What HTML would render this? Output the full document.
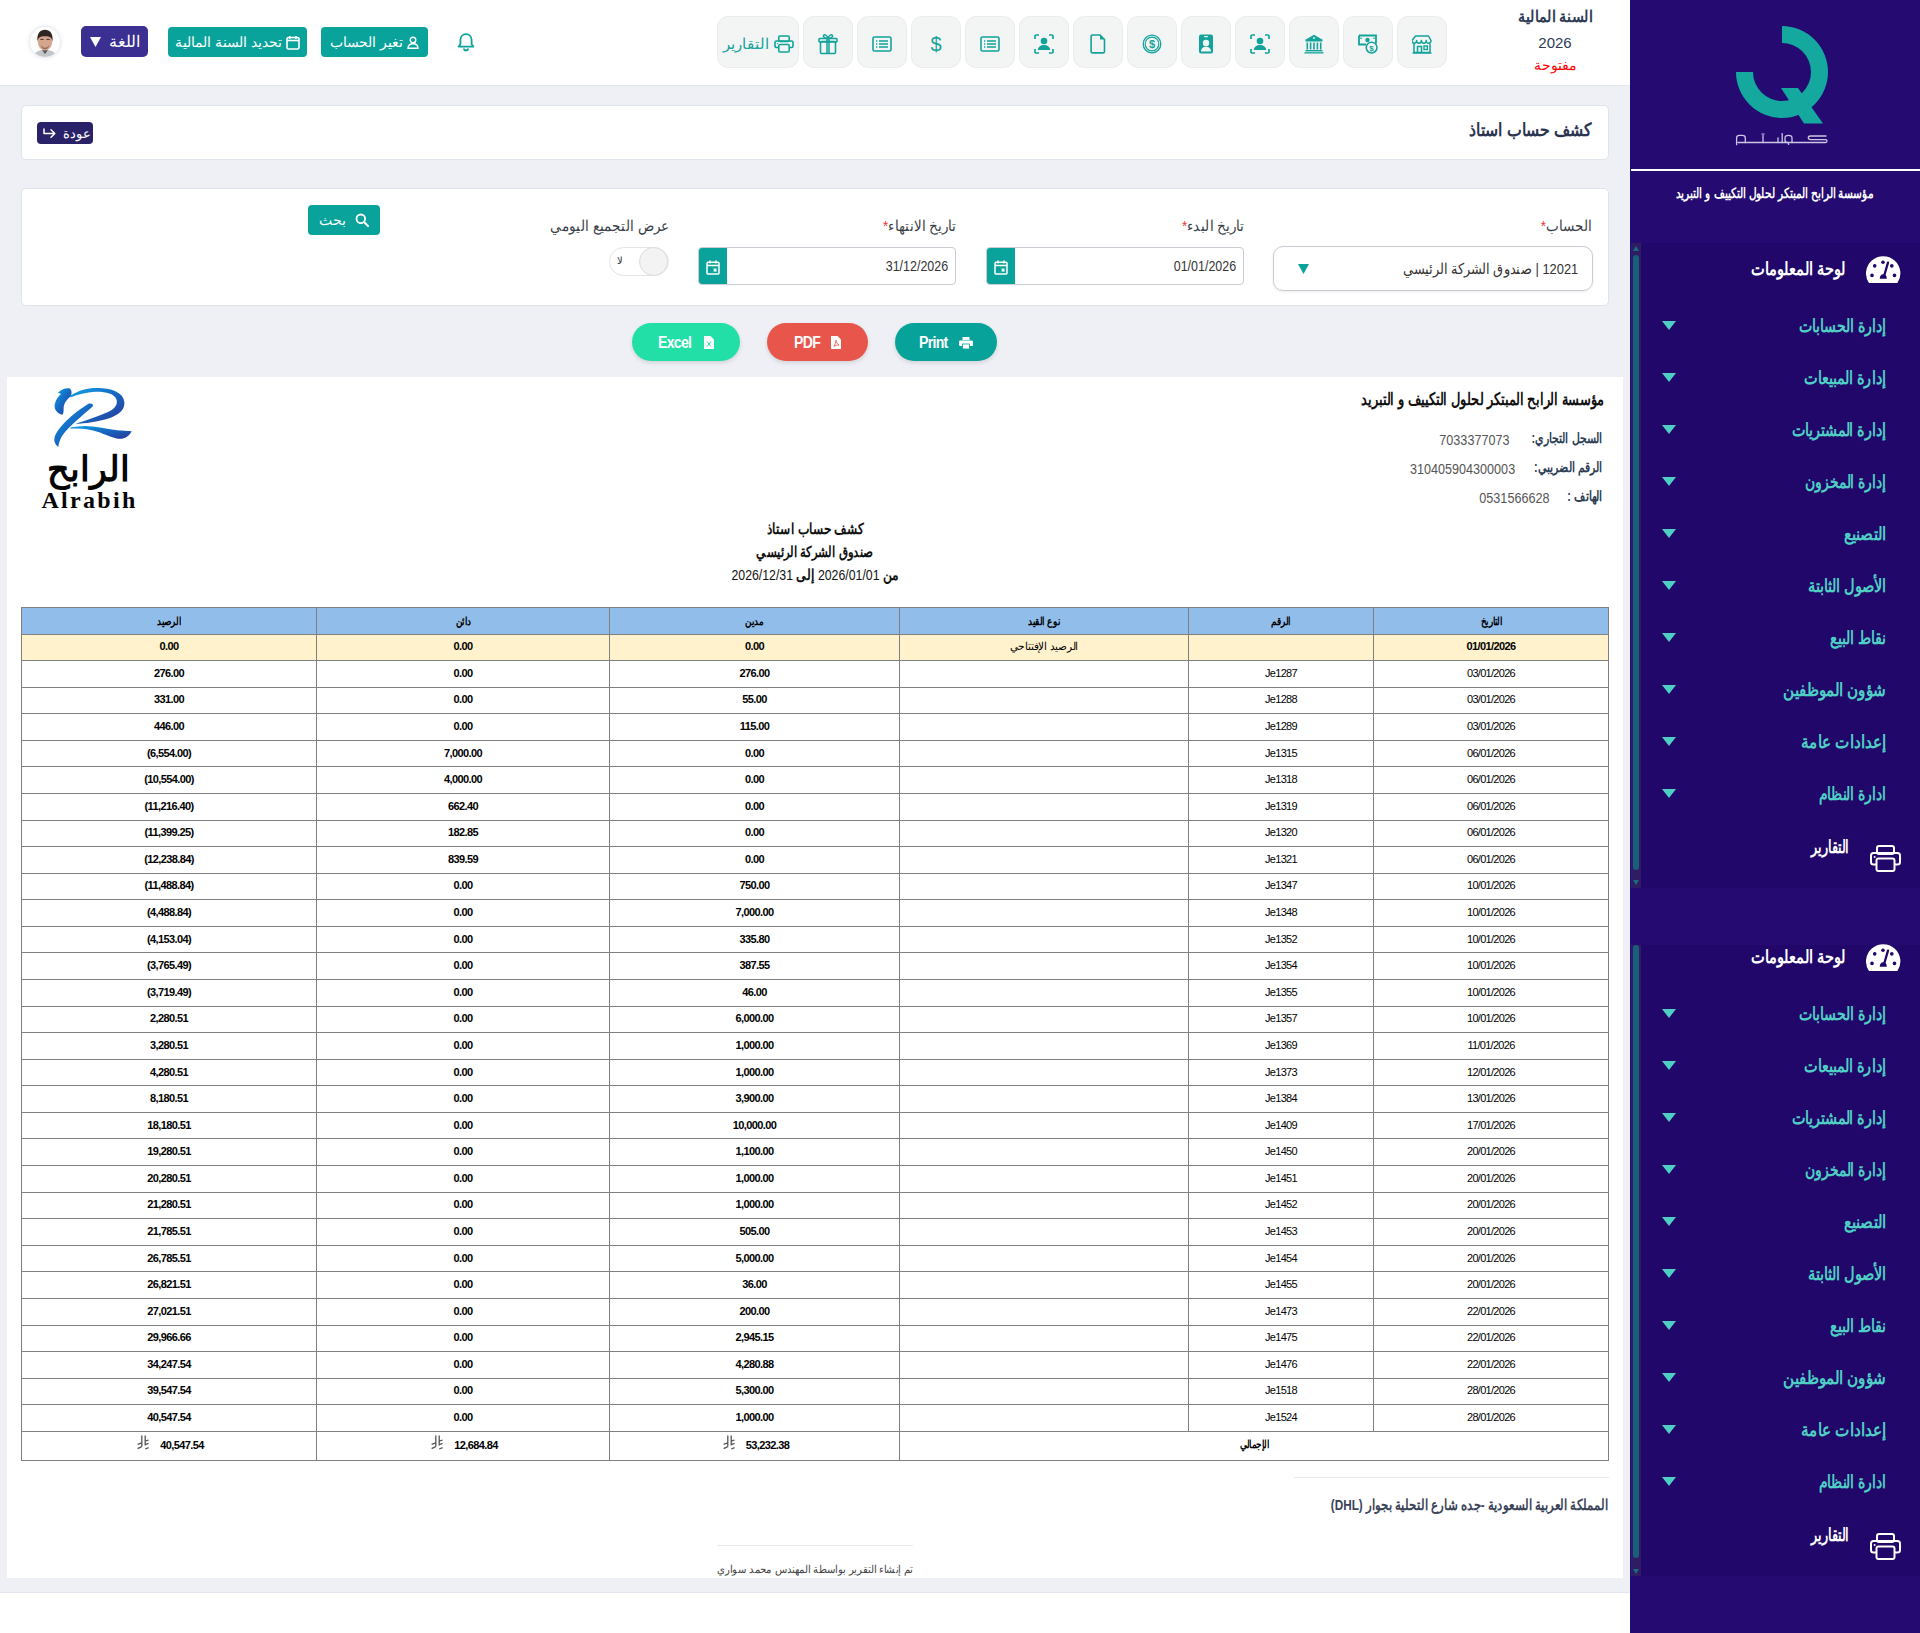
<!DOCTYPE html>
<html lang="ar" dir="rtl">
<head>
<meta charset="utf-8">
<title>كشف حساب استاذ</title>
<style>
*{box-sizing:border-box;margin:0;padding:0}
html,body{width:1920px;height:1633px;overflow:hidden;background:#fff;font-family:"Liberation Sans",sans-serif;color:#333}
.abs{position:absolute}
#hdr{position:absolute;left:0;top:0;width:1630px;height:86px;background:#fff;border-bottom:1px solid #e2e6ef}
#main{position:absolute;left:0;top:86px;width:1630px;height:1507px;background:#eef0f5;border-bottom:1px solid #e3e6ee}
#side{position:absolute;left:1630px;top:0;width:290px;height:1633px;background:#240a71}
.ib{position:absolute;top:16px;width:50px;height:52px;padding-top:4px;background:#f3f4f4;border:1px solid #ebeced;border-radius:11px;display:flex;align-items:center;justify-content:center}
.ib svg{display:block}
.tbtn{position:absolute;background:#0aa39b;color:#fff;border-radius:4px;font-size:14px;display:flex;align-items:center;justify-content:center;gap:4px;white-space:nowrap}
.card{position:absolute;left:21px;width:1588px;background:#fff;border:1px solid #dfe3ec;border-radius:5px}
.lbl{position:absolute;font-size:15px;color:#3a3f4a;white-space:nowrap;transform:scaleX(.9);transform-origin:100% 50%;margin-top:1px}
.lbl b{color:#e33;font-weight:normal}
.pill span{display:inline-block;transform:scaleX(.88);transform-origin:0 50%;margin-right:-4px}
.pill{position:absolute;top:323px;height:38px;border-radius:19px;color:#fff;font-weight:bold;font-size:16px;letter-spacing:-.8px;padding-top:1px;display:flex;align-items:center;justify-content:center;gap:12px;box-shadow:0 2px 4px rgba(0,0,0,.12)}
.ik{font-size:14px;font-weight:bold;color:#2d3e55;white-space:nowrap;transform:scaleX(.775);transform-origin:100% 50%}
.iv{font-size:15px;color:#555;white-space:nowrap;direction:ltr;transform:scaleX(.84);transform-origin:100% 50%}
.ctr{left:0;width:1616px;text-align:center;font-size:15px;color:#111;white-space:nowrap}
#tbl{border-collapse:collapse;table-layout:fixed;width:1587px;font-size:11px;color:#000}
#tbl td{border:1px solid #808080;text-align:center;height:26.58px;padding:0 0 2px;white-space:nowrap;vertical-align:middle}
#tbl .th td{background:#90bde9;font-weight:bold;height:26.5px;padding:2px 0 0}
#tbl .th span{display:inline-block;transform:scaleX(.8)}
#tbl .op td{background:#fff2cc}
#tbl .am{font-weight:bold;letter-spacing:-.6px}
#tbl .dt{letter-spacing:-.7px}
#tbl .tot td{height:29px}
#tbl .ry{vertical-align:-2px;margin-right:11px;margin-top:-8px;margin-left:3px}
#tbl .ltr{direction:ltr}
.sm-w{color:#fff;font-weight:bold;font-size:18px;white-space:nowrap;transform:scaleX(.81);transform-origin:100% 50%}
.sm-t{color:#4fcfc4;font-weight:bold;font-size:18px;white-space:nowrap;transform:scaleX(.765);transform-origin:100% 50%}
</style>
</head>
<body>
<!-- HEADER -->
<div id="hdr">
  <!-- avatar -->
  <div class="abs" style="left:30px;top:27px;width:30px;height:30px;border-radius:50%;background:#fff;box-shadow:0 0 4px rgba(120,130,170,.35);overflow:hidden">
    <svg width="30" height="30" viewBox="0 0 32 32">
      <path d="M4 32 C5 26 9 24.5 16 24.5 C23 24.5 27 26 28 32Z" fill="#c4c6ca"/>
      <path d="M13 24.5 L16 29 L19 24.5Z" fill="#55585e"/>
      <path d="M8.2 14.5 C8.2 8 11.5 5.5 16 5.5 C20.5 5.5 23.8 8 23.8 14.5 C23.8 21 20.5 25 16 25 C11.5 25 8.2 21 8.2 14.5Z" fill="#d6a58e"/>
      <path d="M8 15.5 C7 7 11 3 16 3 C21 3 25 7 24 15.5 C23.3 11.5 22 9.8 16 9.8 C10 9.8 8.7 11.5 8 15.5Z" fill="#2f2622"/>
      <path d="M11 13.2h3.5M17.5 13.2h3.5" stroke="#3a2b25" stroke-width="1"/>
      <path d="M11.5 19.5 Q16 25 20.5 19.5 Q19.5 23.5 16 23.8 Q12.5 23.5 11.5 19.5Z" fill="#5b4038" opacity=".55"/>
    </svg>
  </div>
  <!-- language -->
  <div class="tbtn" style="left:81px;top:26px;width:67px;height:31px;background:#3b2f92;border-radius:5px;font-size:15px;gap:8px">
    <span style="font-size:16px">اللغة</span><svg width="11" height="10" viewBox="0 0 11 10"><path d="M0 0h11L5.5 10z" fill="#fff"/></svg>
  </div>
  <!-- fiscal year btn -->
  <div class="tbtn" style="left:168px;top:27px;width:139px;height:30px">
    <svg width="14" height="15" viewBox="0 0 14 15"><rect x="1" y="2.5" width="12" height="11.5" rx="1.5" fill="none" stroke="#fff" stroke-width="1.6"/><path d="M1 5.5h12" stroke="#fff" stroke-width="1.6"/><path d="M4 1v3M10 1v3" stroke="#fff" stroke-width="1.6"/></svg>
    <span>تحديد السنة المالية</span>
  </div>
  <!-- change account -->
  <div class="tbtn" style="left:321px;top:27px;width:107px;height:30px">
    <svg width="12" height="13" viewBox="0 0 12 13"><circle cx="6" cy="4" r="2.8" fill="none" stroke="#fff" stroke-width="1.4"/><path d="M1 12.3c0-3 2.3-4.6 5-4.6s5 1.6 5 4.6z" fill="none" stroke="#fff" stroke-width="1.4"/></svg>
    <span>تغير الحساب</span>
  </div>
  <!-- bell -->
  <svg class="abs" style="left:456px;top:32px" width="20" height="20" viewBox="0 0 20 20"><path d="M10 2.2c-3.3 0-5.6 2.6-5.6 5.8v4.3L2.6 14.6h14.8l-1.8-2.3V8c0-3.2-2.3-5.8-5.6-5.8z" fill="none" stroke="#0aa39b" stroke-width="1.8" stroke-linejoin="round"/><path d="M8 16.4a2 2 0 0 0 4 0" fill="none" stroke="#0aa39b" stroke-width="1.8"/></svg>

  <!-- ICON BOXES -->
  <div class="ib" style="left:717px;width:82px;gap:5px;color:#12a39b;font-size:15px"><svg width="20" height="18" viewBox="0 0 20 18"><rect x="4.8" y="1" width="10.4" height="5.5" rx="1.3" fill="none" stroke="#12a39b" stroke-width="1.6"/><path d="M4.5 12.5H2.5C1.6 12.5 1 11.9 1 11V7.5C1 6.6 1.6 6 2.5 6h15c.9 0 1.5.6 1.5 1.5V11c0 .9-.6 1.5-1.5 1.5h-2" fill="none" stroke="#12a39b" stroke-width="1.6"/><rect x="4.8" y="9.5" width="10.4" height="7.5" rx="1.3" fill="none" stroke="#12a39b" stroke-width="1.6"/><circle cx="3.6" cy="8.6" r=".7" fill="#12a39b"/></svg><span>التقارير</span></div>
  <div class="ib" style="left:803px"><svg width="20" height="22" viewBox="0 0 20 22"><rect x="2.5" y="8.5" width="15" height="12" rx="1" fill="none" stroke="#12a39b" stroke-width="1.6"/><rect x="1" y="5.5" width="18" height="3.4" rx=".8" fill="none" stroke="#12a39b" stroke-width="1.6"/><path d="M9 5.5v15M11 5.5v15" stroke="#12a39b" stroke-width="1.5"/><path d="M10 5.3C9 2 6.5 1.2 5.6 2.4 4.8 3.6 6.5 5.3 10 5.3 13.5 5.3 15.2 3.6 14.4 2.4 13.5 1.2 11 2 10 5.3z" fill="none" stroke="#12a39b" stroke-width="1.5"/></svg></div>
  <div class="ib" style="left:857px"><svg width="20" height="16" viewBox="0 0 20 16"><rect x="1" y="1" width="18" height="14" rx="1.6" fill="none" stroke="#12a39b" stroke-width="1.6"/><path d="M7 5h9M7 8h9M7 11h9" stroke="#12a39b" stroke-width="1.6"/><path d="M4 5h1.3M4 8h1.3M4 11h1.3" stroke="#12a39b" stroke-width="1.4"/></svg></div>
  <div class="ib" style="left:911px"><svg width="12" height="18" viewBox="0 0 12 18"><text x="6" y="15.5" text-anchor="middle" font-family="Liberation Sans" font-size="20" fill="#12a39b">$</text></svg></div>
  <div class="ib" style="left:965px"><svg width="20" height="16" viewBox="0 0 20 16"><rect x="1" y="1" width="18" height="14" rx="1.6" fill="none" stroke="#12a39b" stroke-width="1.6"/><path d="M7 5h9M7 8h9M7 11h9" stroke="#12a39b" stroke-width="1.6"/><path d="M4 5h1.3M4 8h1.3M4 11h1.3" stroke="#12a39b" stroke-width="1.4"/></svg></div>
  <div class="ib" style="left:1019px"><svg width="20" height="20" viewBox="0 0 20 20"><path d="M1 5V2.2C1 1.5 1.5 1 2.2 1H5M15 1h2.8c.7 0 1.2.5 1.2 1.2V5M19 15v2.8c0 .7-.5 1.2-1.2 1.2H15M5 19H2.2C1.5 19 1 18.5 1 17.8V15" fill="none" stroke="#12a39b" stroke-width="1.7"/><circle cx="10" cy="7" r="3.3" fill="#12a39b"/><path d="M3.8 16c.4-3.4 3-5 6.2-5s5.8 1.6 6.2 5z" fill="#12a39b"/></svg></div>
  <div class="ib" style="left:1073px"><svg width="16" height="20" viewBox="0 0 16 20"><path d="M2.5 1h7.5l4.5 4.5v12c0 .8-.6 1.4-1.4 1.4H2.5c-.8 0-1.4-.6-1.4-1.4V2.4C1.1 1.6 1.7 1 2.5 1z" fill="none" stroke="#12a39b" stroke-width="1.6" stroke-linejoin="round"/><path d="M10 1v4.5h4.5z" fill="#12a39b"/></svg></div>
  <div class="ib" style="left:1127px"><svg width="20" height="20" viewBox="0 0 20 20"><circle cx="10" cy="10" r="8.8" fill="none" stroke="#12a39b" stroke-width="1.3"/><circle cx="10" cy="10" r="6.8" fill="none" stroke="#12a39b" stroke-width="1.2"/><text x="10" y="14" text-anchor="middle" font-family="Liberation Sans" font-weight="bold" font-size="11" fill="#12a39b">$</text></svg></div>
  <div class="ib" style="left:1181px"><svg width="16" height="20" viewBox="0 0 16 20"><rect x="1" y=".5" width="14" height="19" rx="2" fill="#12a39b"/><rect x="6" y="2" width="4" height="1.2" rx=".6" fill="#f3f4f4"/><circle cx="8" cy="9" r="3.2" fill="#f3f4f4"/><path d="M3 17.5c0-3 2.2-4.8 5-4.8s5 1.8 5 4.8z" fill="#f3f4f4"/></svg></div>
  <div class="ib" style="left:1235px"><svg width="20" height="20" viewBox="0 0 20 20"><path d="M1 5V2.2C1 1.5 1.5 1 2.2 1H5M15 1h2.8c.7 0 1.2.5 1.2 1.2V5M19 15v2.8c0 .7-.5 1.2-1.2 1.2H15M5 19H2.2C1.5 19 1 18.5 1 17.8V15" fill="none" stroke="#12a39b" stroke-width="1.7"/><circle cx="10" cy="7" r="3.3" fill="#12a39b"/><path d="M3.8 16c.4-3.4 3-5 6.2-5s5.8 1.6 6.2 5z" fill="#12a39b"/></svg></div>
  <div class="ib" style="left:1289px"><svg width="20" height="20" viewBox="0 0 20 20"><path d="M10 .8 L19 6 H1Z" fill="#12a39b"/><circle cx="10" cy="4" r=".9" fill="#f3f4f4"/><rect x="1.5" y="6" width="17" height="1.5" fill="#12a39b"/><path d="M3.3 8.5v7M6.6 8.5v7M10 8.5v7M13.4 8.5v7M16.7 8.5v7" stroke="#12a39b" stroke-width="1.6"/><rect x="1.5" y="16" width="17" height="1.4" fill="#12a39b"/><rect x=".5" y="18.2" width="19" height="1.3" fill="#12a39b"/></svg></div>
  <div class="ib" style="left:1343px"><svg width="20" height="20" viewBox="0 0 20 20"><path d="M1 1.5h17v8" fill="none" stroke="#12a39b" stroke-width="1.8"/><path d="M1 1.5v9h7" fill="none" stroke="#12a39b" stroke-width="1.8"/><circle cx="9.5" cy="6" r="2.2" fill="#12a39b"/><path d="M3 3.5v1.5M16 3.5v1.5" stroke="#12a39b" stroke-width="1.2"/><circle cx="13.6" cy="13.6" r="5.4" fill="#f3f4f4" stroke="#12a39b" stroke-width="1.6"/><text x="13.6" y="16.6" text-anchor="middle" font-family="Liberation Sans" font-weight="bold" font-size="8" fill="#12a39b">$</text></svg></div>
  <div class="ib" style="left:1397px"><svg width="20" height="19" viewBox="0 0 20 19"><path d="M3.5 1h13l2.5 4.5c0 1.6-1.1 2.7-2.4 2.7-1.3 0-2.4-1.1-2.4-2.7 0 1.6-1.1 2.7-2.4 2.7S9.4 7.1 9.4 5.5c0 1.6-1.1 2.7-2.4 2.7S4.6 7.1 4.6 5.5c0 1.6-1.1 2.7-2.4 2.7S0 7.1 0 5.5z" fill="none" stroke="#12a39b" stroke-width="1.5" stroke-linejoin="round"/><path d="M2 8.5v9h16v-9" fill="none" stroke="#12a39b" stroke-width="1.5"/><path d="M5.5 17.5v-6h4v6" fill="none" stroke="#12a39b" stroke-width="1.5"/><rect x="12" y="11" width="3.3" height="3.5" fill="none" stroke="#12a39b" stroke-width="1.4"/><path d="M.5 18h19" stroke="#12a39b" stroke-width="1.4"/></svg></div>

  <!-- fiscal year -->
  <div class="abs" style="left:1500px;top:7px;width:110px;text-align:center;font-size:16px;font-weight:bold;color:#2e3b55;white-space:nowrap;transform:scaleX(.89)">السنة المالية</div>
  <div class="abs" style="left:1505px;top:34px;width:100px;text-align:center;font-size:15px;color:#2e3b55;direction:ltr">2026</div>
  <div class="abs" style="left:1505px;top:57px;width:100px;text-align:center;font-size:14px;color:#f00">مفتوحة</div>
</div>

<!-- MAIN -->
<div id="main"></div>
<!-- title card -->
<div class="card" style="top:105px;height:55px"></div>
<div class="abs" id="ttl" style="right:328px;top:119px;font-size:18px;font-weight:bold;color:#2b3450;white-space:nowrap;transform:scaleX(.87);transform-origin:100% 50%">كشف حساب استاذ</div>
<div class="abs" style="left:37px;top:122px;width:56px;height:22px;background:#2a2268;border-radius:4px;color:#fff;font-size:13px;display:flex;align-items:center;justify-content:center;gap:6px;padding-left:4px">
  <span>عودة</span>
  <svg width="14" height="11" viewBox="0 0 14 11"><path d="M13 1v4.5H2.5M6 1.8 2.2 5.5 6 9.2" fill="none" stroke="#fff" stroke-width="1.5" stroke-linecap="round" stroke-linejoin="round" transform="scale(-1,1) translate(-14,0)"/></svg>
</div>
<!-- form card -->
<div class="card" style="top:188px;height:118px"></div>
<div class="lbl" style="right:328px;top:216px">الحساب<b>*</b></div>
<div class="abs" style="left:1273px;top:246px;width:320px;height:45px;border:1px solid #c9ccd2;border-radius:10px;background:#fff;box-shadow:0 1px 3px rgba(0,0,0,.08)">
  <div class="abs" style="right:14px;top:13px;font-size:15px;color:#333;white-space:nowrap;transform:scaleX(.86);transform-origin:100% 50%">12021 | صندوق الشركة الرئيسي</div>
  <svg class="abs" style="left:24px;top:17px" width="11" height="10" viewBox="0 0 11 10"><path d="M0 0h11L5.5 10z" fill="#0aa39b"/></svg>
</div>
<div class="lbl" style="right:676px;top:216px">تاريخ البدء<b>*</b></div>
<div class="abs" style="left:986px;top:247px;width:258px;height:38px;border:1px solid #c9ccd2;border-radius:4px;background:#fff;overflow:hidden">
  <div class="abs" style="left:0;top:0;width:28px;height:38px;background:#0aa39b;display:flex;align-items:center;justify-content:center"><svg width="14" height="15" viewBox="0 0 14 15"><rect x="1" y="2.2" width="12" height="11.8" rx="1" fill="none" stroke="#fff" stroke-width="1.5"/><path d="M1 5.6h12" stroke="#fff" stroke-width="1.5"/><path d="M4 .6v3M10 .6v3" stroke="#fff" stroke-width="1.5"/><rect x="7.6" y="8.6" width="3" height="3" fill="#fff"/></svg></div>
  <div class="abs" style="right:7px;top:9px;font-size:15px;color:#333;direction:ltr;transform:scaleX(.83);transform-origin:100% 50%">01/01/2026</div>
</div>
<div class="lbl" style="right:964px;top:216px">تاريخ الانتهاء<b>*</b></div>
<div class="abs" style="left:698px;top:247px;width:258px;height:38px;border:1px solid #c9ccd2;border-radius:4px;background:#fff;overflow:hidden">
  <div class="abs" style="left:0;top:0;width:28px;height:38px;background:#0aa39b;display:flex;align-items:center;justify-content:center"><svg width="14" height="15" viewBox="0 0 14 15"><rect x="1" y="2.2" width="12" height="11.8" rx="1" fill="none" stroke="#fff" stroke-width="1.5"/><path d="M1 5.6h12" stroke="#fff" stroke-width="1.5"/><path d="M4 .6v3M10 .6v3" stroke="#fff" stroke-width="1.5"/><rect x="7.6" y="8.6" width="3" height="3" fill="#fff"/></svg></div>
  <div class="abs" style="right:7px;top:9px;font-size:15px;color:#333;direction:ltr;transform:scaleX(.83);transform-origin:100% 50%">31/12/2026</div>
</div>
<div class="lbl" style="right:1251px;top:216px">عرض التجميع اليومي</div>
<div class="abs" style="left:609px;top:247px;width:60px;height:29px;border:1px solid #e2e4e8;border-radius:15px;background:#fff">
  <div class="abs" style="right:0;top:-1px;width:29px;height:29px;border-radius:50%;background:#f3f3f4;border:1px solid #dcdde0"></div>
  <div class="abs" style="left:7px;top:7px;font-size:10px;color:#333">لا</div>
</div>
<div class="abs" style="left:308px;top:205px;width:72px;height:30px;background:#0aa39b;border-radius:4px;color:#fff;font-size:14px;display:flex;align-items:center;justify-content:center;gap:9px">
  <svg width="14" height="14" viewBox="0 0 14 14"><circle cx="5.8" cy="5.8" r="4.3" fill="none" stroke="#fff" stroke-width="1.8"/><path d="M9 9l4 4" stroke="#fff" stroke-width="2" stroke-linecap="round"/></svg>
  <span>بحث</span>
</div>
<!-- export pills -->
<div class="pill" style="left:895px;width:102px;background:#07a39a;direction:ltr">
  <span>Print</span>
  <svg width="14" height="12" viewBox="0 0 14 12"><rect x="3.5" y="0" width="7" height="3" fill="#fff"/><rect x="0" y="3.5" width="14" height="5.5" rx="1.2" fill="#fff"/><rect x="3.5" y="7" width="7" height="5" fill="#fff" stroke="#07a39a" stroke-width=".8"/></svg>
</div>
<div class="pill" style="left:767px;width:101px;background:#e8554a;direction:ltr">
  <span>PDF</span>
  <svg width="10" height="13" viewBox="0 0 10 13"><path d="M0 0h6.5L10 3.5V13H0z" fill="#fff"/><path d="M3 10.5c1-2 2-4.5 2-6.5 0 2 1.3 4 3 5-2 0-3.6.3-5 1.5z" fill="none" stroke="#e8554a" stroke-width=".8"/></svg>
</div>
<div class="pill" style="left:632px;width:108px;background:#22dfa8;direction:ltr">
  <span>Excel</span>
  <svg width="10" height="13" viewBox="0 0 10 13"><path d="M0 0h6.5L10 3.5V13H0z" fill="#fff"/><path d="M3 5.5l4 5M7 5.5l-4 5" stroke="#22dfa8" stroke-width="1"/></svg>
</div>
<!-- REPORT -->
<div id="report" class="abs" style="left:7px;top:377px;width:1616px;height:1201px;background:#fff">
  <!-- logo -->
  <svg class="abs" style="left:28px;top:3px" width="110" height="75" viewBox="0 0 110 75">
    <defs><linearGradient id="rg" x1="0" y1="0" x2="1" y2="1"><stop offset="0" stop-color="#0ea5e8"/><stop offset=".5" stop-color="#1667c2"/><stop offset="1" stop-color="#2b3596"/></linearGradient></defs>
    <path d="M23 12.4 C27 9 32 7.5 35 8.6 C37 10.5 37 14 35.6 16.5 C31 20 28.5 24 28.6 29 C28.8 32 28 34.5 27.2 34.8 C21 33 18.5 28 20 23.5 C21 19.5 23.5 16 26 14 Z" fill="url(#rg)"/>
    <path d="M35.5 15.6 C44 10 53 7.8 62 7.9 C76 8 88 12 89.3 21.5 C90.5 30 83 35 75 38 C62 42 50 43.5 40.5 43.8 C52 40 64 36 73 32 C80 29 83 24 81.5 19.5 C79.5 13.5 70 11.5 60 11.8 C51 12.3 43 14.6 35.6 17.4 Z" fill="url(#rg)"/>
    <path d="M53 24 C55.5 23 58.5 23.6 57.9 26.2 C48 35 33 47 27 56 C24.5 60 24 63.5 23.2 67 C19.5 64 18.5 60 20 56 C25 44 42 31 53 24 Z" fill="url(#rg)"/>
    <path d="M35.5 47.5 C45 45.5 55 45.5 65 47.5 C77 49.8 88 51 96.7 51.2 C95 54.5 92 57.5 88 58.5 C82 60 74 56 65 52.5 C55 49 45 48 35.5 48.8 Z" fill="url(#rg)"/>
  </svg>
  <div class="abs" style="left:30px;top:72px;width:102px;text-align:center;font-size:35px;font-weight:bold;color:#050505;line-height:40px">الرابح</div>
  <div class="abs" style="left:32px;top:111px;width:101px;text-align:center;font-family:'Liberation Serif',serif;font-size:24px;font-weight:bold;color:#050505;line-height:24px;direction:ltr;letter-spacing:2.3px">Alrabih</div>
  <!-- company -->
  <div class="abs" id="cname" style="right:19px;top:12px;font-size:17px;font-weight:bold;color:#111;white-space:nowrap;transform:scaleX(.763);transform-origin:100% 50%">مؤسسة الرابح المبتكر لحلول التكييف و التبريد</div>
  <div class="abs ik" style="right:20px;top:53px">السجل التجاري:</div><div class="abs iv" style="right:114px;top:54px">7033377073</div>
  <div class="abs ik" style="right:20px;top:82px">الرقم الضريبي:</div><div class="abs iv" style="right:108px;top:83px">310405904300003</div>
  <div class="abs ik" style="right:20px;top:111px">الهاتف :</div><div class="abs iv" style="right:74px;top:112px">0531566628</div>
  <!-- center titles -->
  <div class="abs ctr" style="top:143px;font-weight:bold;transform:scaleX(.81)">كشف حساب استاذ</div>
  <div class="abs ctr" style="top:166px;font-weight:bold;transform:scaleX(.78)">صندوق الشركة الرئيسي</div>
  <div class="abs ctr" style="top:189px;transform:scaleX(.82)"><b>من</b> 2026/01/01 <b>إلى</b> 2026/12/31</div>
  <!-- table -->
  <table id="tbl" class="abs" style="left:14px;top:230px">
    <colgroup><col style="width:235px"><col style="width:185px"><col style="width:289px"><col style="width:290px"><col style="width:293px"><col style="width:295px"></colgroup>
    <tr class="th"><td><span>التاريخ</span></td><td><span>الرقم</span></td><td><span>نوع القيد</span></td><td><span>مدين</span></td><td><span>دائن</span></td><td><span>الرصيد</span></td></tr>
    <tr class="op"><td class="am">01/01/2026</td><td></td><td class="tx"><span style="display:inline-block;transform:scaleX(.95)">الرصيد الإفتتاحي</span></td><td class="am">0.00</td><td class="am">0.00</td><td class="am">0.00</td></tr>
    <tr><td class="dt">03/01/2026</td><td class="dt">Je1287</td><td></td><td class="am">276.00</td><td class="am">0.00</td><td class="am">276.00</td></tr><tr><td class="dt">03/01/2026</td><td class="dt">Je1288</td><td></td><td class="am">55.00</td><td class="am">0.00</td><td class="am">331.00</td></tr><tr><td class="dt">03/01/2026</td><td class="dt">Je1289</td><td></td><td class="am">115.00</td><td class="am">0.00</td><td class="am">446.00</td></tr><tr><td class="dt">06/01/2026</td><td class="dt">Je1315</td><td></td><td class="am">0.00</td><td class="am">7,000.00</td><td class="am">(6,554.00)</td></tr><tr><td class="dt">06/01/2026</td><td class="dt">Je1318</td><td></td><td class="am">0.00</td><td class="am">4,000.00</td><td class="am">(10,554.00)</td></tr><tr><td class="dt">06/01/2026</td><td class="dt">Je1319</td><td></td><td class="am">0.00</td><td class="am">662.40</td><td class="am">(11,216.40)</td></tr><tr><td class="dt">06/01/2026</td><td class="dt">Je1320</td><td></td><td class="am">0.00</td><td class="am">182.85</td><td class="am">(11,399.25)</td></tr><tr><td class="dt">06/01/2026</td><td class="dt">Je1321</td><td></td><td class="am">0.00</td><td class="am">839.59</td><td class="am">(12,238.84)</td></tr><tr><td class="dt">10/01/2026</td><td class="dt">Je1347</td><td></td><td class="am">750.00</td><td class="am">0.00</td><td class="am">(11,488.84)</td></tr><tr><td class="dt">10/01/2026</td><td class="dt">Je1348</td><td></td><td class="am">7,000.00</td><td class="am">0.00</td><td class="am">(4,488.84)</td></tr><tr><td class="dt">10/01/2026</td><td class="dt">Je1352</td><td></td><td class="am">335.80</td><td class="am">0.00</td><td class="am">(4,153.04)</td></tr><tr><td class="dt">10/01/2026</td><td class="dt">Je1354</td><td></td><td class="am">387.55</td><td class="am">0.00</td><td class="am">(3,765.49)</td></tr><tr><td class="dt">10/01/2026</td><td class="dt">Je1355</td><td></td><td class="am">46.00</td><td class="am">0.00</td><td class="am">(3,719.49)</td></tr><tr><td class="dt">10/01/2026</td><td class="dt">Je1357</td><td></td><td class="am">6,000.00</td><td class="am">0.00</td><td class="am">2,280.51</td></tr><tr><td class="dt">11/01/2026</td><td class="dt">Je1369</td><td></td><td class="am">1,000.00</td><td class="am">0.00</td><td class="am">3,280.51</td></tr><tr><td class="dt">12/01/2026</td><td class="dt">Je1373</td><td></td><td class="am">1,000.00</td><td class="am">0.00</td><td class="am">4,280.51</td></tr><tr><td class="dt">13/01/2026</td><td class="dt">Je1384</td><td></td><td class="am">3,900.00</td><td class="am">0.00</td><td class="am">8,180.51</td></tr><tr><td class="dt">17/01/2026</td><td class="dt">Je1409</td><td></td><td class="am">10,000.00</td><td class="am">0.00</td><td class="am">18,180.51</td></tr><tr><td class="dt">20/01/2026</td><td class="dt">Je1450</td><td></td><td class="am">1,100.00</td><td class="am">0.00</td><td class="am">19,280.51</td></tr><tr><td class="dt">20/01/2026</td><td class="dt">Je1451</td><td></td><td class="am">1,000.00</td><td class="am">0.00</td><td class="am">20,280.51</td></tr><tr><td class="dt">20/01/2026</td><td class="dt">Je1452</td><td></td><td class="am">1,000.00</td><td class="am">0.00</td><td class="am">21,280.51</td></tr><tr><td class="dt">20/01/2026</td><td class="dt">Je1453</td><td></td><td class="am">505.00</td><td class="am">0.00</td><td class="am">21,785.51</td></tr><tr><td class="dt">20/01/2026</td><td class="dt">Je1454</td><td></td><td class="am">5,000.00</td><td class="am">0.00</td><td class="am">26,785.51</td></tr><tr><td class="dt">20/01/2026</td><td class="dt">Je1455</td><td></td><td class="am">36.00</td><td class="am">0.00</td><td class="am">26,821.51</td></tr><tr><td class="dt">22/01/2026</td><td class="dt">Je1473</td><td></td><td class="am">200.00</td><td class="am">0.00</td><td class="am">27,021.51</td></tr><tr><td class="dt">22/01/2026</td><td class="dt">Je1475</td><td></td><td class="am">2,945.15</td><td class="am">0.00</td><td class="am">29,966.66</td></tr><tr><td class="dt">22/01/2026</td><td class="dt">Je1476</td><td></td><td class="am">4,280.88</td><td class="am">0.00</td><td class="am">34,247.54</td></tr><tr><td class="dt">28/01/2026</td><td class="dt">Je1518</td><td></td><td class="am">5,300.00</td><td class="am">0.00</td><td class="am">39,547.54</td></tr><tr><td class="dt">28/01/2026</td><td class="dt">Je1524</td><td></td><td class="am">1,000.00</td><td class="am">0.00</td><td class="am">40,547.54</td></tr>
    <tr class="tot"><td colspan="3" class="am"><span style="display:inline-block;transform:scaleX(.8)">الإجمالي</span></td><td class="am ltr"><svg class="ry" width="12" height="16" viewBox="0 0 12 16"><path d="M4.8 .5V11.5M8.2 .5V10.5M.6 9.4 4.8 7.8M.6 13.6C2 13 3.5 12.4 4.8 11.5M8.2 6.2 11.6 5M8.2 9.6 11.6 8.4M8.2 14 11.6 12.6" stroke="#555" stroke-width="1.3" fill="none"/></svg>53,232.38</td><td class="am ltr"><svg class="ry" width="12" height="16" viewBox="0 0 12 16"><path d="M4.8 .5V11.5M8.2 .5V10.5M.6 9.4 4.8 7.8M.6 13.6C2 13 3.5 12.4 4.8 11.5M8.2 6.2 11.6 5M8.2 9.6 11.6 8.4M8.2 14 11.6 12.6" stroke="#555" stroke-width="1.3" fill="none"/></svg>12,684.84</td><td class="am ltr"><svg class="ry" width="12" height="16" viewBox="0 0 12 16"><path d="M4.8 .5V11.5M8.2 .5V10.5M.6 9.4 4.8 7.8M.6 13.6C2 13 3.5 12.4 4.8 11.5M8.2 6.2 11.6 5M8.2 9.6 11.6 8.4M8.2 14 11.6 12.6" stroke="#555" stroke-width="1.3" fill="none"/></svg>40,547.54</td></tr>
  </table>
  <!-- footer -->
  <div class="abs" style="left:1287px;top:1100px;width:315px;border-top:1px solid #e8e8ea"></div>
  <div class="abs" style="right:15px;top:1119px;font-size:15px;font-weight:bold;color:#3b4459;white-space:nowrap;transform:scaleX(.783);transform-origin:100% 50%">المملكة العربية السعودية -جده شارع التحلية بجوار (DHL)</div>
  <div class="abs" style="left:710px;top:1168px;width:196px;border-top:1px solid #e8e8ea"></div>
  <div class="abs" style="left:700px;top:1186px;width:216px;text-align:center;font-size:11px;color:#444;white-space:nowrap;transform:scaleX(.915)">تم إنشاء التقرير بواسطة المهندس محمد سواري</div>
</div>

<!-- SIDEBAR -->
<div id="side">
  <div class="abs" style="left:0;top:0;width:1px;height:1633px;background:#1c0c80"></div>
  <div class="abs" style="left:1px;top:243px;width:289px;height:645px;background:#21076a"></div>
  <div class="abs" style="left:1px;top:945px;width:289px;height:631px;background:#21076a"></div>
  <!-- Q logo -->
  <svg class="abs" style="left:100px;top:22px" width="100" height="105" viewBox="0 0 100 105">
    <path d="M52 4 A46 46 0 1 1 6 50 L23 50 A29 29 0 1 0 52 21 Z" fill="#14a89e"/>
    <path d="M51 66 L68 66 L93 101.5 L74 101.5 Z" fill="#14a89e"/>
  </svg>
  <svg class="abs" style="left:100px;top:128px" width="105" height="22" viewBox="0 0 105 22" fill="none" stroke="#cdc6e6" stroke-width="1.3" stroke-linecap="round" stroke-linejoin="round">
    <path d="M96 8 H80.5 Q78.3 8 78.3 9.8 Q78.3 11.6 80.5 11.6 H95.5 Q97 11.6 97 13 Q97 14.5 95.5 14.5 H8"/>
    <path d="M62 14.5 V10 Q62 7.4 58.5 7.4 Q55 7.4 55 10 V12.5 Q55 14.5 57.5 14.5 Q58.6 14.5 58.6 16.4"/>
    <path d="M52.2 5.6 V14.6"/>
    <path d="M48 9.8 V14.5"/>
    <path d="M33 7.6 V14.5"/>
    <path d="M31.8 6 H34.2" stroke-width="1.1"/>
    <path d="M15.3 14.5 V10 Q15.3 7.4 12.3 7.4 H9.3 Q6.6 7.4 6.6 10 V16.7"/>
  </svg>
  <div class="abs" style="left:1px;top:169px;width:289px;height:2px;background:#fff"></div>
  <div class="abs" style="left:-20px;top:185px;width:330px;text-align:center;color:#fff;font-weight:bold;font-size:14px;white-space:nowrap;transform:scaleX(.75)">مؤسسة الرابح المبتكر لحلول التكييف و التبريد</div>
  <div class="abs" style="left:1px;top:243px;width:10px;height:645px;background:#2e1d63"></div><div class="abs" style="left:3px;top:255px;width:6px;height:615px;border-radius:3px;background:#1a5f7a"></div><svg class="abs" style="left:3px;top:246px" width="6" height="5" viewBox="0 0 6 5"><path d="M0 5h6L3 0z" fill="#1a6a80"/></svg><svg class="abs" style="left:3px;top:880px" width="6" height="5" viewBox="0 0 6 5"><path d="M0 0h6L3 5z" fill="#1a6a80"/></svg>
  <div class="abs" style="left:1px;top:945px;width:10px;height:631px;background:#2e1d63"></div><div class="abs" style="left:3px;top:945px;width:6px;height:613px;border-radius:3px;background:#1a5f7a"></div><svg class="abs" style="left:3px;top:1569px" width="6" height="5" viewBox="0 0 6 5"><path d="M0 0h6L3 5z" fill="#1a6a80"/></svg>
  <div class="abs sm-w" style="right:75px;top:258px">لوحة المعلومات</div>
  <div class="abs" style="left:236px;top:256px"><svg width="35" height="28" viewBox="0 0 35 28"><path d="M3 27.1A17.2 17.2 0 1 1 31.4 27.1Z" fill="#fff"/><g fill="#21076a"><circle cx="8.7" cy="9.9" r="1.8"/><circle cx="17" cy="6.2" r="1.8"/><circle cx="25.8" cy="9.9" r="1.8"/><circle cx="6" cy="19.4" r="1.8"/><circle cx="28.5" cy="19.4" r="1.8"/><path d="M13.8 22.8Q13.8 18.2 17.3 18.2Q20.8 18.2 20.8 22.8Z"/></g><path d="M22 6.6 18.4 19" stroke="#21076a" stroke-width="2.3" stroke-linecap="round"/></svg></div>
  <div class="abs sm-t" style="right:34px;top:315px;transform:scaleX(0.784)">إدارة الحسابات</div>
  <svg class="abs" style="left:32px;top:321px" width="14" height="9" viewBox="0 0 14 9"><path d="M0 0h14L7 9z" fill="#4fcfc4"/></svg>
  <div class="abs sm-t" style="right:34px;top:367px;transform:scaleX(0.804)">إدارة المبيعات</div>
  <svg class="abs" style="left:32px;top:373px" width="14" height="9" viewBox="0 0 14 9"><path d="M0 0h14L7 9z" fill="#4fcfc4"/></svg>
  <div class="abs sm-t" style="right:34px;top:419px;transform:scaleX(0.794)">إدارة المشتريات</div>
  <svg class="abs" style="left:32px;top:425px" width="14" height="9" viewBox="0 0 14 9"><path d="M0 0h14L7 9z" fill="#4fcfc4"/></svg>
  <div class="abs sm-t" style="right:34px;top:471px;transform:scaleX(0.773)">إدارة المخزون</div>
  <svg class="abs" style="left:32px;top:477px" width="14" height="9" viewBox="0 0 14 9"><path d="M0 0h14L7 9z" fill="#4fcfc4"/></svg>
  <div class="abs sm-t" style="right:34px;top:523px;transform:scaleX(0.83)">التصنيع</div>
  <svg class="abs" style="left:32px;top:529px" width="14" height="9" viewBox="0 0 14 9"><path d="M0 0h14L7 9z" fill="#4fcfc4"/></svg>
  <div class="abs sm-t" style="right:34px;top:575px;transform:scaleX(0.805)">الأصول الثابتة</div>
  <svg class="abs" style="left:32px;top:581px" width="14" height="9" viewBox="0 0 14 9"><path d="M0 0h14L7 9z" fill="#4fcfc4"/></svg>
  <div class="abs sm-t" style="right:34px;top:627px;transform:scaleX(0.788)">نقاط البيع</div>
  <svg class="abs" style="left:32px;top:633px" width="14" height="9" viewBox="0 0 14 9"><path d="M0 0h14L7 9z" fill="#4fcfc4"/></svg>
  <div class="abs sm-t" style="right:34px;top:679px;transform:scaleX(0.842)">شؤون الموظفين</div>
  <svg class="abs" style="left:32px;top:685px" width="14" height="9" viewBox="0 0 14 9"><path d="M0 0h14L7 9z" fill="#4fcfc4"/></svg>
  <div class="abs sm-t" style="right:34px;top:731px;transform:scaleX(0.842)">إعدادات عامة</div>
  <svg class="abs" style="left:32px;top:737px" width="14" height="9" viewBox="0 0 14 9"><path d="M0 0h14L7 9z" fill="#4fcfc4"/></svg>
  <div class="abs sm-t" style="right:34px;top:783px;transform:scaleX(0.775)">ادارة النظام</div>
  <svg class="abs" style="left:32px;top:789px" width="14" height="9" viewBox="0 0 14 9"><path d="M0 0h14L7 9z" fill="#4fcfc4"/></svg>
  <div class="abs sm-w" style="right:71px;top:836px;transform:scaleX(.71)">التقارير</div>
  <div class="abs" style="left:240px;top:845px"><svg width="31" height="27" viewBox="0 0 31 27"><rect x="7" y="1" width="17" height="8" rx="2" fill="none" stroke="#fff" stroke-width="2"/><path d="M6.5 19.5H3.5C2.1 19.5 1 18.4 1 17V10.5C1 9.1 2.1 8 3.5 8h24C28.9 8 30 9.1 30 10.5V17c0 1.4-1.1 2.5-2.5 2.5h-3" fill="none" stroke="#fff" stroke-width="2"/><rect x="6.5" y="13.5" width="18" height="12.5" rx="2" fill="#22076b" stroke="#fff" stroke-width="2"/><circle cx="4.6" cy="12" r="1" fill="#fff"/></svg></div>
  <div class="abs sm-w" style="right:75px;top:946px">لوحة المعلومات</div>
  <div class="abs" style="left:236px;top:944px"><svg width="35" height="28" viewBox="0 0 35 28"><path d="M3 27.1A17.2 17.2 0 1 1 31.4 27.1Z" fill="#fff"/><g fill="#21076a"><circle cx="8.7" cy="9.9" r="1.8"/><circle cx="17" cy="6.2" r="1.8"/><circle cx="25.8" cy="9.9" r="1.8"/><circle cx="6" cy="19.4" r="1.8"/><circle cx="28.5" cy="19.4" r="1.8"/><path d="M13.8 22.8Q13.8 18.2 17.3 18.2Q20.8 18.2 20.8 22.8Z"/></g><path d="M22 6.6 18.4 19" stroke="#21076a" stroke-width="2.3" stroke-linecap="round"/></svg></div>
  <div class="abs sm-t" style="right:34px;top:1003px;transform:scaleX(0.784)">إدارة الحسابات</div>
  <svg class="abs" style="left:32px;top:1009px" width="14" height="9" viewBox="0 0 14 9"><path d="M0 0h14L7 9z" fill="#4fcfc4"/></svg>
  <div class="abs sm-t" style="right:34px;top:1055px;transform:scaleX(0.804)">إدارة المبيعات</div>
  <svg class="abs" style="left:32px;top:1061px" width="14" height="9" viewBox="0 0 14 9"><path d="M0 0h14L7 9z" fill="#4fcfc4"/></svg>
  <div class="abs sm-t" style="right:34px;top:1107px;transform:scaleX(0.794)">إدارة المشتريات</div>
  <svg class="abs" style="left:32px;top:1113px" width="14" height="9" viewBox="0 0 14 9"><path d="M0 0h14L7 9z" fill="#4fcfc4"/></svg>
  <div class="abs sm-t" style="right:34px;top:1159px;transform:scaleX(0.773)">إدارة المخزون</div>
  <svg class="abs" style="left:32px;top:1165px" width="14" height="9" viewBox="0 0 14 9"><path d="M0 0h14L7 9z" fill="#4fcfc4"/></svg>
  <div class="abs sm-t" style="right:34px;top:1211px;transform:scaleX(0.83)">التصنيع</div>
  <svg class="abs" style="left:32px;top:1217px" width="14" height="9" viewBox="0 0 14 9"><path d="M0 0h14L7 9z" fill="#4fcfc4"/></svg>
  <div class="abs sm-t" style="right:34px;top:1263px;transform:scaleX(0.805)">الأصول الثابتة</div>
  <svg class="abs" style="left:32px;top:1269px" width="14" height="9" viewBox="0 0 14 9"><path d="M0 0h14L7 9z" fill="#4fcfc4"/></svg>
  <div class="abs sm-t" style="right:34px;top:1315px;transform:scaleX(0.788)">نقاط البيع</div>
  <svg class="abs" style="left:32px;top:1321px" width="14" height="9" viewBox="0 0 14 9"><path d="M0 0h14L7 9z" fill="#4fcfc4"/></svg>
  <div class="abs sm-t" style="right:34px;top:1367px;transform:scaleX(0.842)">شؤون الموظفين</div>
  <svg class="abs" style="left:32px;top:1373px" width="14" height="9" viewBox="0 0 14 9"><path d="M0 0h14L7 9z" fill="#4fcfc4"/></svg>
  <div class="abs sm-t" style="right:34px;top:1419px;transform:scaleX(0.842)">إعدادات عامة</div>
  <svg class="abs" style="left:32px;top:1425px" width="14" height="9" viewBox="0 0 14 9"><path d="M0 0h14L7 9z" fill="#4fcfc4"/></svg>
  <div class="abs sm-t" style="right:34px;top:1471px;transform:scaleX(0.775)">ادارة النظام</div>
  <svg class="abs" style="left:32px;top:1477px" width="14" height="9" viewBox="0 0 14 9"><path d="M0 0h14L7 9z" fill="#4fcfc4"/></svg>
  <div class="abs sm-w" style="right:71px;top:1524px;transform:scaleX(.71)">التقارير</div>
  <div class="abs" style="left:240px;top:1533px"><svg width="31" height="27" viewBox="0 0 31 27"><rect x="7" y="1" width="17" height="8" rx="2" fill="none" stroke="#fff" stroke-width="2"/><path d="M6.5 19.5H3.5C2.1 19.5 1 18.4 1 17V10.5C1 9.1 2.1 8 3.5 8h24C28.9 8 30 9.1 30 10.5V17c0 1.4-1.1 2.5-2.5 2.5h-3" fill="none" stroke="#fff" stroke-width="2"/><rect x="6.5" y="13.5" width="18" height="12.5" rx="2" fill="#22076b" stroke="#fff" stroke-width="2"/><circle cx="4.6" cy="12" r="1" fill="#fff"/></svg></div>
</div>
</body>
</html>
